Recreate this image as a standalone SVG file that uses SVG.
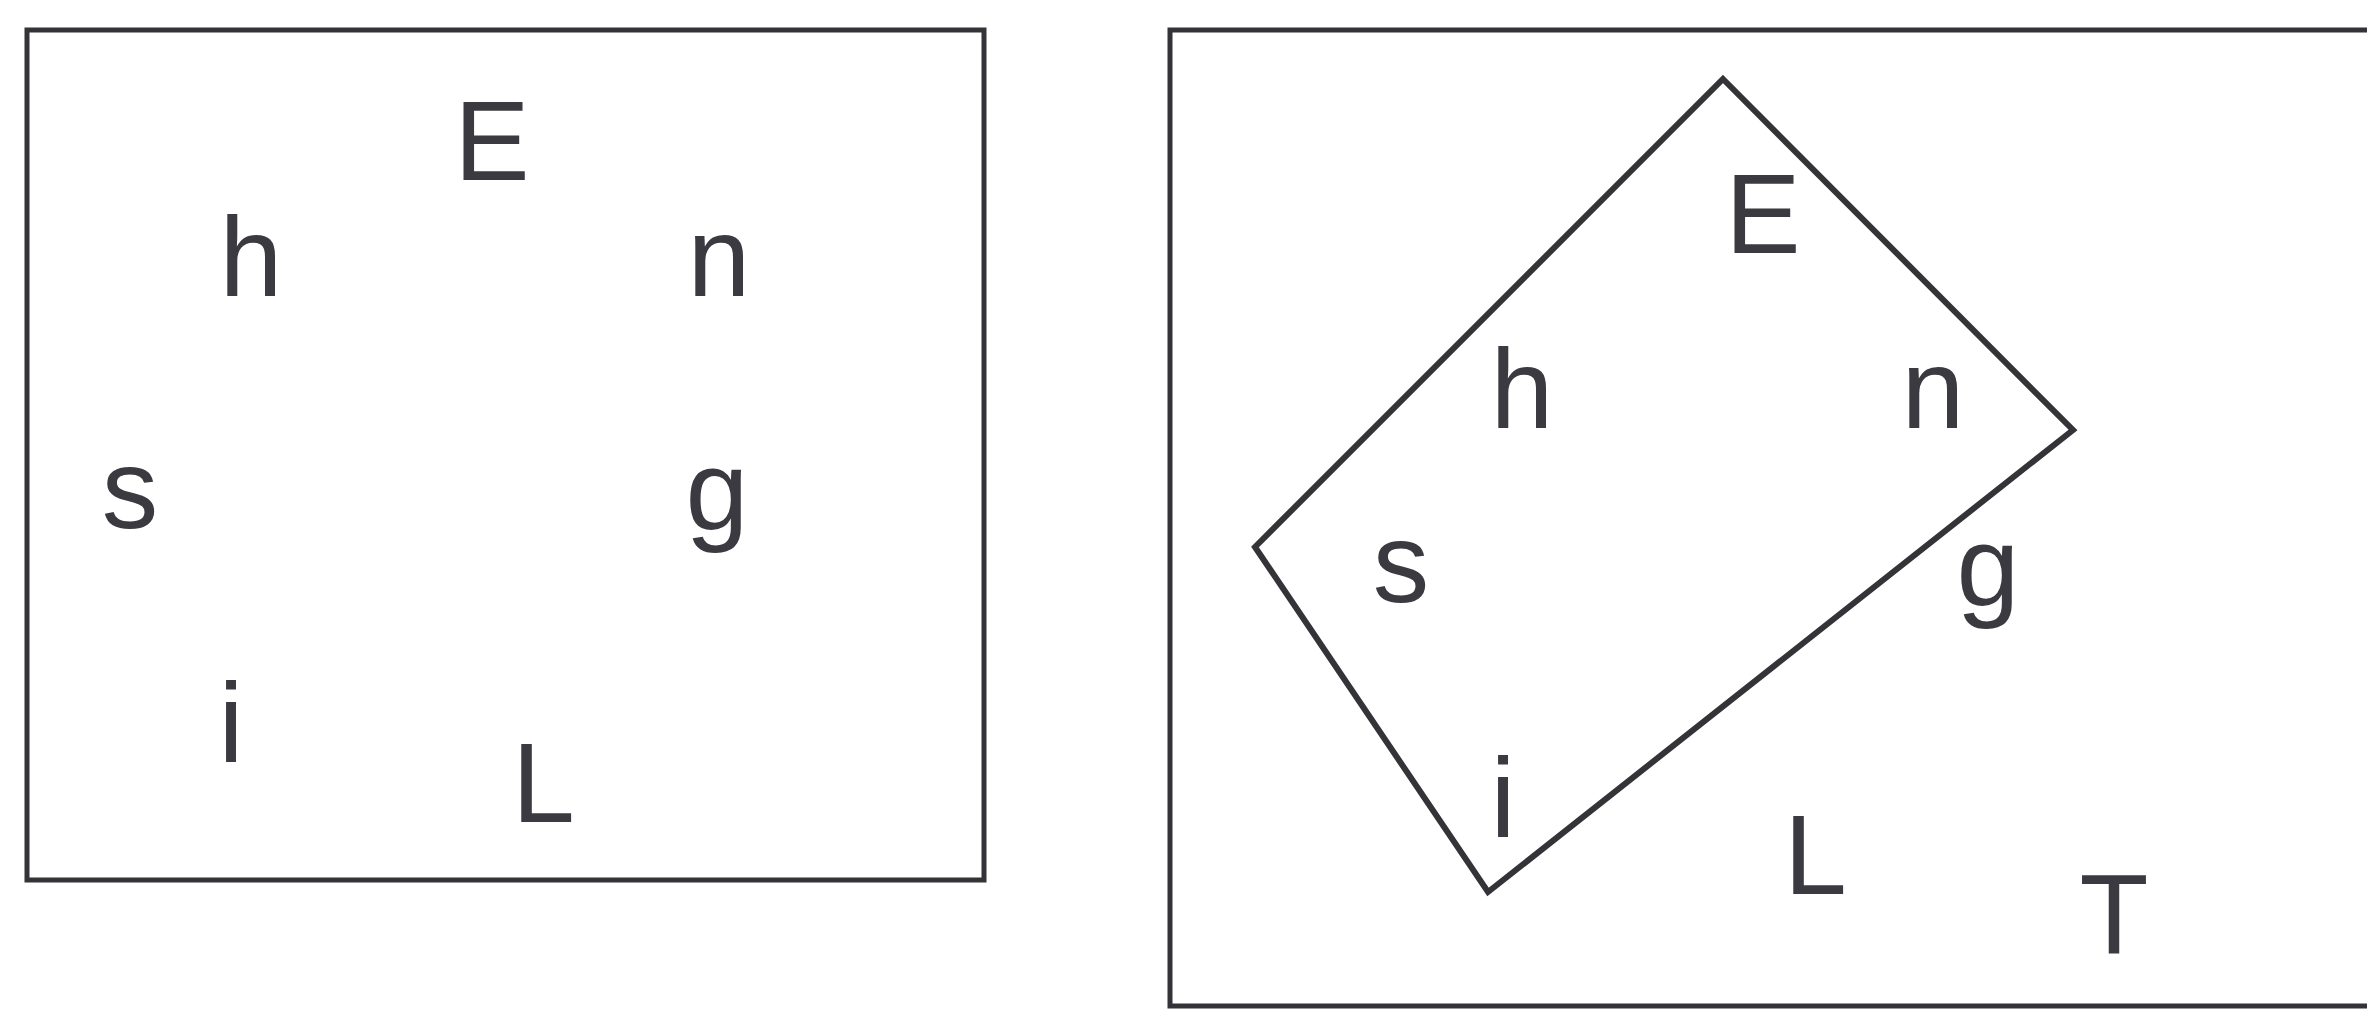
<svg xmlns="http://www.w3.org/2000/svg" width="2367" height="1009" viewBox="0 0 2367 1009">
<style>
.frame{fill:none;stroke:#333338;stroke-width:5}
.shape{fill:none;stroke:#333338;stroke-width:6;stroke-linejoin:miter}
.t{font-family:"Liberation Sans",Arial,sans-serif;font-size:113px;fill:#3a3a40;text-anchor:middle}
.s{text-anchor:start}
</style>
<rect width="2367" height="1009" fill="#ffffff"/>
<g id="left-panel">
<rect class="frame" x="27" y="30" width="957" height="850"/>
<text class="t" x="492" y="180">E</text>
<text class="t" x="251" y="296">h</text>
<text class="t" x="719" y="296">n</text>
<text class="t" x="130" y="528">s</text>
<text class="t" x="717" y="529">g</text>
<text class="t" x="231" y="762">i</text>
<text class="t s" x="512" y="822">L</text>
</g>
<g id="right-panel">
<rect class="frame" x="1170" y="30" width="1220" height="976"/>
<polygon class="shape" points="1723,79 2073,430 1488,892 1255,547"/>
<text class="t" x="1763" y="253">E</text>
<text class="t" x="1522" y="428">h</text>
<text class="t" x="1933" y="428">n</text>
<text class="t" x="1401" y="602">s</text>
<text class="t" x="1988" y="605">g</text>
<text class="t" x="1503" y="837">i</text>
<text class="t s" x="1784" y="894">L</text>
<text class="t" x="2114" y="953">T</text>
</g>
</svg>
